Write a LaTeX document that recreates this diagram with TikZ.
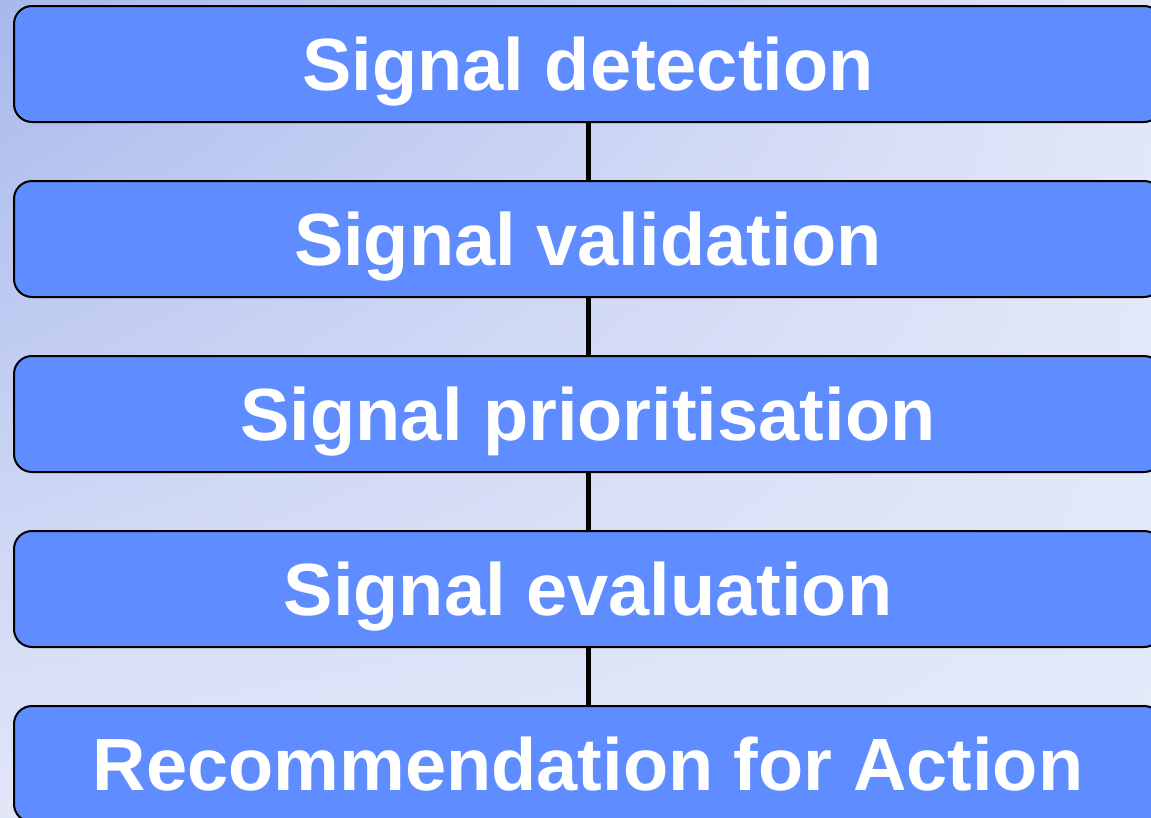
\documentclass[tikz,border=0pt]{standalone}
\usepackage{fontspec}
\setmainfont{Liberation Sans}
\usetikzlibrary{shadings}
\definecolor{boxblue}{RGB}{95,140,255}
\definecolor{bgdark}{RGB}{168,184,236}
\definecolor{bglight}{RGB}{226,231,248}
\definecolor{bglight2}{RGB}{229,234,249}
\begin{document}
\begin{tikzpicture}[x=1pt,y=-1pt,
  stepbox/.style={draw=black, line width=2pt, fill=boxblue, rounded corners=18pt,
    minimum width=1148pt, minimum height=116pt, inner sep=0pt,
    text=white, font=\fontsize{74}{80}\selectfont\bfseries,
    text height=53pt, text depth=0pt},
  link/.style={draw=black, line width=5pt}]
\useasboundingbox (0,0) rectangle (1151,817);
\shade[upper left=bgdark, upper right=bglight, lower left=bglight, lower right=bglight2] (0,0) rectangle (1151,817);
\node[stepbox] (s1) at (588,64) {Signal detection};
\node[stepbox] (s2) at (588,239) {Signal validation};
\node[stepbox] (s3) at (588,414) {Signal prioritisation};
\node[stepbox] (s4) at (588,589) {Signal evaluation};
\node[stepbox] (s5) at (588,764) {Recommendation for Action};
\draw[link] (s1.south) -- (s2.north);
\draw[link] (s2.south) -- (s3.north);
\draw[link] (s3.south) -- (s4.north);
\draw[link] (s4.south) -- (s5.north);
\end{tikzpicture}
\end{document}
